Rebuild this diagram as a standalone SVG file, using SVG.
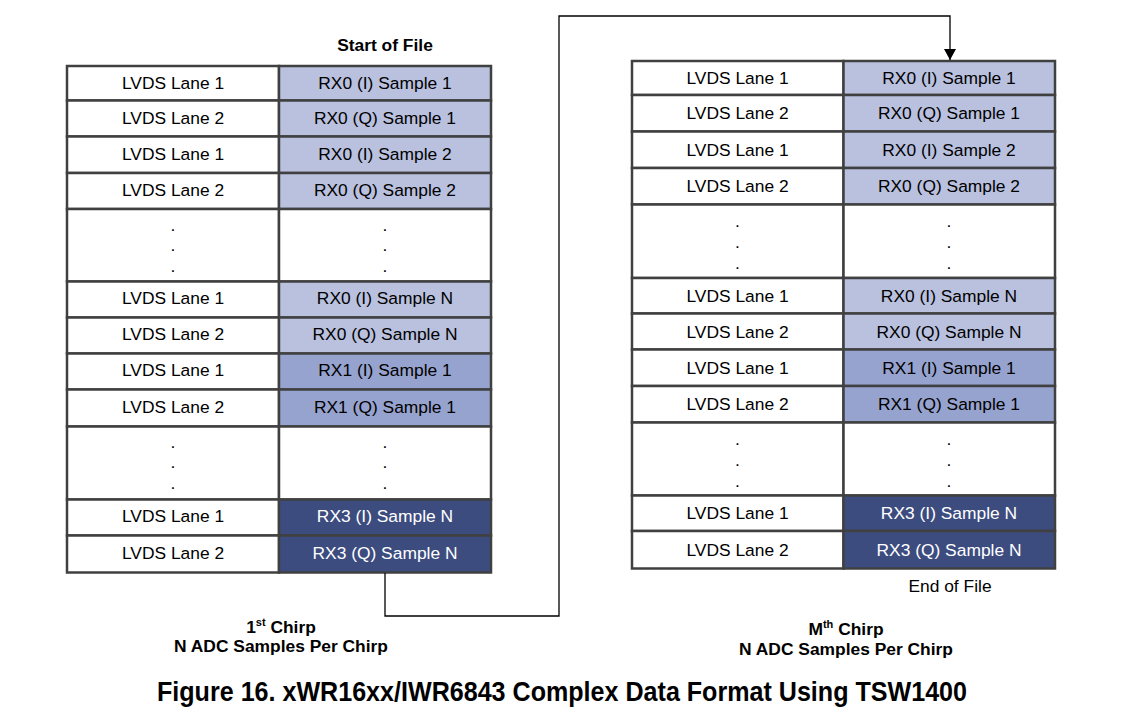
<svg xmlns="http://www.w3.org/2000/svg" width="1130" height="726" viewBox="0 0 1130 726">
  <style>
    .cell { stroke: #404040; stroke-width: 2.5; }
    .w { fill: #ffffff; }
    .l { fill: #b9c1df; }
    .m { fill: #97a3cf; }
    .d { fill: #3c4c7f; }
    text { font-family: "Liberation Sans", Arial, sans-serif; font-size: 17.4px; fill: #000; text-anchor: middle; }
    .inv { fill: #ffffff; }
    .b { font-weight: bold; }
    .cap { font-size: 28px; font-weight: bold; }
    .conn { fill: none; stroke: #000; stroke-width: 1.3; }
  </style>
  <defs>
    <marker id="arrow" markerUnits="userSpaceOnUse" markerWidth="12" markerHeight="12" refX="11" refY="6" orient="auto" viewBox="0 0 12 12">
      <path d="M0,0 L11,6 L0,12 Z" fill="#000"/>
    </marker>
  </defs>
  <rect width="1130" height="726" fill="#ffffff"/>

  <!-- First chirp table -->
  <g id="chirp1">
    <g id="c1r1"><rect class="cell w" x="67" y="66" width="212" height="34.5"/><rect class="cell l" x="279" y="66" width="212" height="34.5"/><text x="173" y="89">LVDS Lane 1</text><text x="385" y="89">RX0 (I) Sample 1</text></g>
    <g id="c1r2"><rect class="cell w" x="67" y="100.5" width="212" height="36"/><rect class="cell l" x="279" y="100.5" width="212" height="36"/><text x="173" y="123.5">LVDS Lane 2</text><text x="385" y="123.5">RX0 (Q) Sample 1</text></g>
    <g id="c1r3"><rect class="cell w" x="67" y="136.5" width="212" height="36.5"/><rect class="cell l" x="279" y="136.5" width="212" height="36.5"/><text x="173" y="159.5">LVDS Lane 1</text><text x="385" y="159.5">RX0 (I) Sample 2</text></g>
    <g id="c1r4"><rect class="cell w" x="67" y="173" width="212" height="36"/><rect class="cell l" x="279" y="173" width="212" height="36"/><text x="173" y="196">LVDS Lane 2</text><text x="385" y="196">RX0 (Q) Sample 2</text></g>
    <g id="c1r5"><rect class="cell w" x="67" y="209" width="212" height="72.5"/><rect class="cell w" x="279" y="209" width="212" height="72.5"/><text x="173" y="231">.</text><text x="173" y="251">.</text><text x="173" y="272">.</text><text x="385" y="231">.</text><text x="385" y="251">.</text><text x="385" y="272">.</text></g>
    <g id="c1r6"><rect class="cell w" x="67" y="281.5" width="212" height="36"/><rect class="cell l" x="279" y="281.5" width="212" height="36"/><text x="173" y="304">LVDS Lane 1</text><text x="385" y="304">RX0 (I) Sample N</text></g>
    <g id="c1r7"><rect class="cell w" x="67" y="317.5" width="212" height="36"/><rect class="cell l" x="279" y="317.5" width="212" height="36"/><text x="173" y="340">LVDS Lane 2</text><text x="385" y="340">RX0 (Q) Sample N</text></g>
    <g id="c1r8"><rect class="cell w" x="67" y="353.5" width="212" height="36"/><rect class="cell m" x="279" y="353.5" width="212" height="36"/><text x="173" y="376">LVDS Lane 1</text><text x="385" y="376">RX1 (I) Sample 1</text></g>
    <g id="c1r9"><rect class="cell w" x="67" y="389.5" width="212" height="37"/><rect class="cell m" x="279" y="389.5" width="212" height="37"/><text x="173" y="412.5">LVDS Lane 2</text><text x="385" y="412.5">RX1 (Q) Sample 1</text></g>
    <g id="c1r10"><rect class="cell w" x="67" y="426.5" width="212" height="73"/><rect class="cell w" x="279" y="426.5" width="212" height="73"/><text x="173" y="448">.</text><text x="173" y="468">.</text><text x="173" y="489">.</text><text x="385" y="448">.</text><text x="385" y="468">.</text><text x="385" y="489">.</text></g>
    <g id="c1r11"><rect class="cell w" x="67" y="499.5" width="212" height="36"/><rect class="cell d" x="279" y="499.5" width="212" height="36"/><text x="173" y="522">LVDS Lane 1</text><text class="inv" x="385" y="522">RX3 (I) Sample N</text></g>
    <g id="c1r12"><rect class="cell w" x="67" y="535.5" width="212" height="37"/><rect class="cell d" x="279" y="535.5" width="212" height="37"/><text x="173" y="558.5">LVDS Lane 2</text><text class="inv" x="385" y="558.5">RX3 (Q) Sample N</text></g>
  </g>

  <!-- Last chirp table -->
  <g id="chirpM">
    <g id="cMr1"><rect class="cell w" x="632" y="61" width="211.5" height="34"/><rect class="cell l" x="843.5" y="61" width="211.5" height="34"/><text x="737.5" y="84">LVDS Lane 1</text><text x="949" y="84">RX0 (I) Sample 1</text></g>
    <g id="cMr2"><rect class="cell w" x="632" y="95" width="211.5" height="36.5"/><rect class="cell l" x="843.5" y="95" width="211.5" height="36.5"/><text x="737.5" y="119">LVDS Lane 2</text><text x="949" y="119">RX0 (Q) Sample 1</text></g>
    <g id="cMr3"><rect class="cell w" x="632" y="131.5" width="211.5" height="36.5"/><rect class="cell l" x="843.5" y="131.5" width="211.5" height="36.5"/><text x="737.5" y="155.5">LVDS Lane 1</text><text x="949" y="155.5">RX0 (I) Sample 2</text></g>
    <g id="cMr4"><rect class="cell w" x="632" y="168" width="211.5" height="36.5"/><rect class="cell l" x="843.5" y="168" width="211.5" height="36.5"/><text x="737.5" y="192">LVDS Lane 2</text><text x="949" y="192">RX0 (Q) Sample 2</text></g>
    <g id="cMr5"><rect class="cell w" x="632" y="204.5" width="211.5" height="73.5"/><rect class="cell w" x="843.5" y="204.5" width="211.5" height="73.5"/><text x="737.5" y="227">.</text><text x="737.5" y="248">.</text><text x="737.5" y="269">.</text><text x="949" y="227">.</text><text x="949" y="248">.</text><text x="949" y="269">.</text></g>
    <g id="cMr6"><rect class="cell w" x="632" y="278" width="211.5" height="35.5"/><rect class="cell l" x="843.5" y="278" width="211.5" height="35.5"/><text x="737.5" y="301.5">LVDS Lane 1</text><text x="949" y="301.5">RX0 (I) Sample N</text></g>
    <g id="cMr7"><rect class="cell w" x="632" y="313.5" width="211.5" height="36"/><rect class="cell l" x="843.5" y="313.5" width="211.5" height="36"/><text x="737.5" y="337.5">LVDS Lane 2</text><text x="949" y="337.5">RX0 (Q) Sample N</text></g>
    <g id="cMr8"><rect class="cell w" x="632" y="349.5" width="211.5" height="36.5"/><rect class="cell m" x="843.5" y="349.5" width="211.5" height="36.5"/><text x="737.5" y="373.5">LVDS Lane 1</text><text x="949" y="373.5">RX1 (I) Sample 1</text></g>
    <g id="cMr9"><rect class="cell w" x="632" y="386" width="211.5" height="36.5"/><rect class="cell m" x="843.5" y="386" width="211.5" height="36.5"/><text x="737.5" y="410">LVDS Lane 2</text><text x="949" y="410">RX1 (Q) Sample 1</text></g>
    <g id="cMr10"><rect class="cell w" x="632" y="422.5" width="211.5" height="73"/><rect class="cell w" x="843.5" y="422.5" width="211.5" height="73"/><text x="737.5" y="445">.</text><text x="737.5" y="466">.</text><text x="737.5" y="487">.</text><text x="949" y="445">.</text><text x="949" y="466">.</text><text x="949" y="487">.</text></g>
    <g id="cMr11"><rect class="cell w" x="632" y="495.5" width="211.5" height="35.5"/><rect class="cell d" x="843.5" y="495.5" width="211.5" height="35.5"/><text x="737.5" y="519">LVDS Lane 1</text><text class="inv" x="949" y="519">RX3 (I) Sample N</text></g>
    <g id="cMr12"><rect class="cell w" x="632" y="531" width="211.5" height="37.5"/><rect class="cell d" x="843.5" y="531" width="211.5" height="37.5"/><text x="737.5" y="556">LVDS Lane 2</text><text class="inv" x="949" y="556">RX3 (Q) Sample N</text></g>
  </g>

  <!-- Connector from end of first chirp to start of last chirp -->
  <g id="connectors">
    <path class="conn" d="M385,573 V616 H559 V16 H950 V60" marker-end="url(#arrow)"/>
  </g>

  <!-- Labels -->
  <g id="labels">
    <text class="b" x="385" y="51">Start of File</text>
    <text x="950" y="592">End of File</text>
    <text class="b" x="281" y="633">1<tspan font-size="11" dy="-7">st</tspan><tspan dy="7"> Chirp</tspan></text>
    <text class="b" x="281" y="652">N ADC Samples Per Chirp</text>
    <text class="b" x="846" y="635">M<tspan font-size="11" dy="-7">th</tspan><tspan dy="7"> Chirp</tspan></text>
    <text class="b" x="846" y="655">N ADC Samples Per Chirp</text>
    <text class="cap" x="562" y="701" textLength="810" lengthAdjust="spacingAndGlyphs">Figure 16. xWR16xx/IWR6843 Complex Data Format Using TSW1400</text>
  </g>
</svg>
